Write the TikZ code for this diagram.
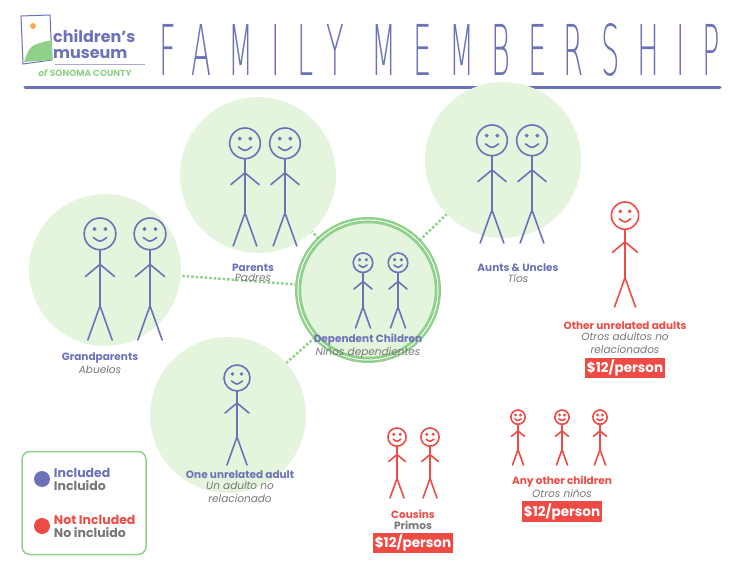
\documentclass[tikz,border=0pt]{standalone}
\usepackage{fontspec}
\setmainfont{Poppins}
\newfontfamily\titlefont[LetterSpace=60]{DejaVu Sans ExtraLight}
\usepackage{graphicx}
\usetikzlibrary{positioning}
\definecolor{famblue}{HTML}{6B72B8}
\definecolor{famred}{HTML}{EE4B45}
\definecolor{famgreen}{HTML}{8FD18A}
\definecolor{famfill}{HTML}{E4F4DD}
\definecolor{famgray}{HTML}{777777}
% stick figure: x, y of head top, height, colour
\newcommand{\stickman}[4]{%
  \begin{scope}[shift={(#1,#2)},x=#3pt,y=-#3pt,draw=#4,line width=1.6pt,line cap=round]
    \draw (0,0.13) circle[radius=0.13*#3pt];
    \draw (-0.045,0.09) circle[radius=0.008*#3pt] (0.045,0.09) circle[radius=0.008*#3pt];
    \draw (-0.055,0.16) .. controls (0,0.2) .. (0.055,0.16);
    \draw (0,0.26) -- (0,0.72);
    \draw (-0.12,0.48) -- (0,0.38) -- (0.12,0.48);
    \draw (-0.1,1) -- (0,0.72) -- (0.1,1);
  \end{scope}}
\begin{document}
\begin{tikzpicture}[x=1pt,y=-1pt,
  bubble/.style={circle,fill=famfill,inner sep=0pt},
  link/.style={famgreen,line width=2.5pt,dotted},
  lbl/.style={font=\fontsize{10.5}{12}\selectfont\bfseries,text=famblue,align=center,inner sep=1pt},
  sub/.style={font=\fontsize{10.5}{13}\selectfont\itshape,text=famgray,align=center,inner sep=1pt},
  rlbl/.style={lbl,text=famred},
  legtext/.style={font=\fontsize{12.5}{14}\selectfont\bfseries,inner sep=1.5pt},
  price/.style={fill=famred,text=white,font=\fontsize{13.5}{15}\selectfont\bfseries,inner sep=2pt}]
\useasboundingbox (0,0) rectangle (750,577);
% header
\draw[famblue,line width=1pt] (21,16) -- (50,15) -- (52,60) -- (23,64) -- cycle;
\node[circle,fill=orange!70,minimum size=6pt,inner sep=0pt] (sun) at (33,26) {};
\fill[famgreen] (24,62) .. controls (30,45) .. (52,40) -- (52,60) -- cycle;
\node[font=\fontsize{16}{16}\selectfont\bfseries,text=famblue,align=left,inner sep=0pt,anchor=west] (cm) at (53,44) {children's\\museum};
\draw[famblue!60,line width=0.5pt] (55,64) -- (145,64);
\node[font=\fontsize{9}{10}\selectfont\bfseries,text=famgreen,inner sep=0pt] (sc) at (85,73) {\textit{of} SONOMA COUNTY};
\node[text=famblue,inner sep=0pt] (title) at (440,50) {\resizebox{560pt}{52pt}{\titlefont FAMILY MEMBERSHIP}};
\coordinate (ul) at (25,88);
\coordinate (ur) at (720,88);
\draw[famblue,line width=3pt,line cap=round] (ul) -- (ur);
% bubbles
\node[bubble,minimum size=152pt] (grand) at (105,270) {};
\node[bubble,minimum size=156pt] (parents) at (258,175) {};
\node[bubble,minimum size=156pt] (aunts) at (503,160) {};
\node[bubble,minimum size=156pt] (adult) at (228,415) {};
\node[bubble,minimum size=140pt,draw=famgreen,line width=2.5pt,double=white,double distance=1pt] (dep) at (368,290) {};
\foreach \to in {grand,parents,aunts,adult}
  \draw[link] (dep) -- (\to);
\node[bubble,minimum size=136pt,draw=famgreen,line width=2.5pt] at (368,290) {};
% figures
\stickman{100}{218}{122}{famblue}
\stickman{150}{218}{122}{famblue}
\stickman{245}{128}{118}{famblue}
\stickman{285}{128}{118}{famblue}
\stickman{492}{125}{118}{famblue}
\stickman{532}{125}{118}{famblue}
\stickman{363}{253}{75}{famblue}
\stickman{398}{253}{75}{famblue}
\stickman{237}{365}{100}{famblue}
\stickman{625}{202}{105}{famred}
\stickman{397}{428}{70}{famred}
\stickman{430}{428}{70}{famred}
\stickman{518}{410}{55}{famred}
\stickman{562}{410}{55}{famred}
\stickman{600}{410}{55}{famred}
% labels
\node[lbl] (lgrand) at (100,358) {Grandparents};
\node[sub,below=0pt of lgrand] {Abuelos};
\node[lbl] (lpar) at (253,268) {Parents};
\node[sub,below=0pt of lpar] {Padres};
\node[lbl] (launt) at (518,268) {Aunts \& Uncles};
\node[sub,below=0pt of launt] {Tíos};
\node[lbl] (ldep) at (368,340) {Dependent Children};
\node[sub,below=0pt of ldep] {Niños dependientes};
\node[lbl] (lad) at (240,475) {One unrelated adult};
\node[sub,below=0pt of lad] (sad) {Un adulto no\\relacionado};
\node[rlbl] (loth) at (625,326) {Other unrelated adults};
\node[sub,below=0pt of loth] (soth) {Otros adultos no\\relacionados};
\node[price,below=3pt of soth] {\$12/person};
\node[rlbl] (lcou) at (413,514) {Cousins};
\node[sub,font=\fontsize{10.5}{12}\selectfont\bfseries,below=0pt of lcou] (scou) {Primos};
\node[price,below=2pt of scou] {\$12/person};
\node[rlbl] (lany) at (562,482) {Any other children};
\node[sub,below=0pt of lany] (sany) {Otros niños};
\node[price,below=2pt of sany] {\$12/person};
% legend
\node[draw=famgreen,line width=1.5pt,rounded corners=8pt,minimum width=124pt,minimum height=103pt] (legend) at (84,503) {};
\node[circle,fill=famblue,minimum size=16pt] (dinc) at (42,479) {};
\node[circle,fill=famred,minimum size=16pt] (dnot) at (42,526) {};
\node[legtext,text=famblue,right=2pt of dinc,anchor=south west] {Included};
\node[legtext,text=famgray,right=2pt of dinc,anchor=north west] {Incluido};
\node[legtext,text=famred,right=2pt of dnot,anchor=south west] {Not Included};
\node[legtext,text=famgray,right=2pt of dnot,anchor=north west] {No incluido};
\end{tikzpicture}
\end{document}
